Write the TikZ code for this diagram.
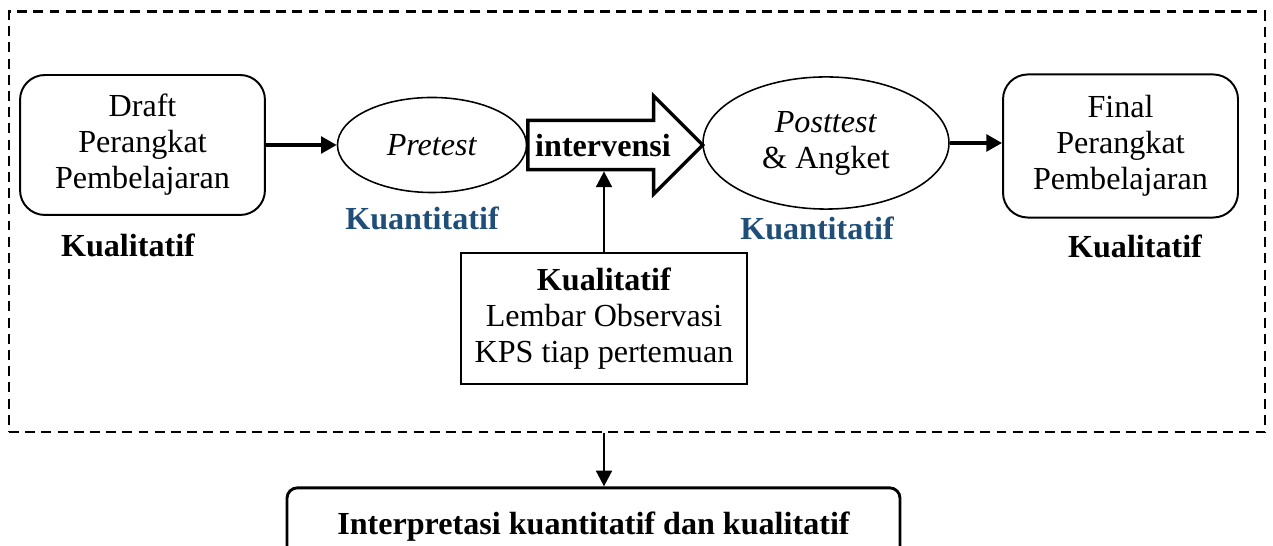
\documentclass[tikz,border=0pt]{standalone}
\usepackage{fontspec}
\setmainfont{Liberation Serif}
\usepackage{xcolor}
\usepackage{tikz}
\usetikzlibrary{shapes.geometric,shapes.arrows,arrows.meta}
\definecolor{kuanblue}{RGB}{31,78,121}
\newcommand{\dfont}{\fontsize{12.3pt}{13.8pt}\selectfont}
\tikzset{
roundboxv1/.style={rectangle, rounded corners=9.5pt, draw=black!100, fill=none, line width=0.75pt, inner sep=0pt, minimum width=93.8pt, minimum height=53.6pt, align=center, font=\dfont},
roundboxv2/.style={rectangle, rounded corners=4pt, draw=black!100, fill=none, line width=1.1pt, inner sep=0pt, minimum width=234.8pt, minimum height=30pt, font=\dfont\bfseries},
plainboxv1/.style={rectangle, draw=black!100, fill=none, line width=0.75pt, inner sep=0pt, minimum width=109.5pt, minimum height=50.2pt, align=center, font=\dfont},
ellipsenodev1/.style={ellipse, draw=black!100, fill=none, line width=0.6pt, inner sep=0pt, minimum width=72.4pt, minimum height=36.4pt, align=center, font=\dfont},
ellipsenodev2/.style={ellipse, draw=black!100, fill=none, line width=0.6pt, inner sep=0pt, minimum width=94.2pt, minimum height=50.6pt, align=center, font=\dfont},
bigarrowv1/.style={single arrow, draw=black!100, fill=none, line width=1.3pt, inner xsep=0pt, inner ysep=4.3pt, text height=9pt, text depth=0pt, single arrow head extend=9.4pt, minimum height=67pt, font=\dfont\bfseries},
dashframev1/.style={rectangle, draw=black!100, fill=none, line width=1.1pt, dash pattern=on 3.8pt off 2.4pt, inner sep=0pt, minimum width=481pt, minimum height=160.9pt},
tagblackv1/.style={inner sep=0pt, font=\dfont\bfseries},
tagbluev1/.style={inner sep=0pt, text=kuanblue, font=\dfont\bfseries},
arrowv1/.style={-{Triangle[length=6pt,width=6.4pt]}, line width=1.3pt},
arrowv2/.style={-{Triangle[length=6pt,width=6pt]}, line width=1pt},
}
\begin{document}
\begin{tikzpicture}[x=0.383pt, y=-0.383pt]
  \useasboundingbox (0,0) rectangle (1273,546);
  \node[dashframev1] at (637,222) (frame) {};

  \node[roundboxv1] at (142.5,145) (draft) {Draft\\ Perangkat\\ Pembelajaran};
  \node[ellipsenodev1] at (432,145) (pre) {\textit{Pretest}};
  \node[bigarrowv1] at (603,145) (interv) {intervensi};
  \node[ellipsenodev2] at (826,143) (post) {\textit{Posttest}\\ \& Angket};
  \node[roundboxv1, minimum width=90pt, minimum height=54.8pt] at (1120.5,146) (final) {Final\\ Perangkat\\ Pembelajaran};

  \node[tagblackv1] at (128,245) (kualA) {Kualitatif};
  \node[tagbluev1] at (422,218) (kuanA) {Kuantitatif};
  \node[tagbluev1] at (817,228) (kuanB) {Kuantitatif};
  \node[tagblackv1] at (1135,246) (kualB) {Kualitatif};

  \node[plainboxv1] at (604,318.5) (kps) {\textbf{Kualitatif}\\ Lembar Observasi\\ KPS tiap pertemuan};
  \node[roundboxv2] at (593.5,527) (interp) {Interpretasi kuantitatif dan kualitatif};

  \draw[arrowv1] (draft.east) -- (pre.west);
  \draw[arrowv1] (post.east) -- (post.east -| final.west);
  \draw[arrowv2] (kps.north) -- (kps.north |- interv.south);
  \draw[arrowv2] (kps.south |- frame.south) -- (kps.south |- interp.north);
\end{tikzpicture}
\end{document}
